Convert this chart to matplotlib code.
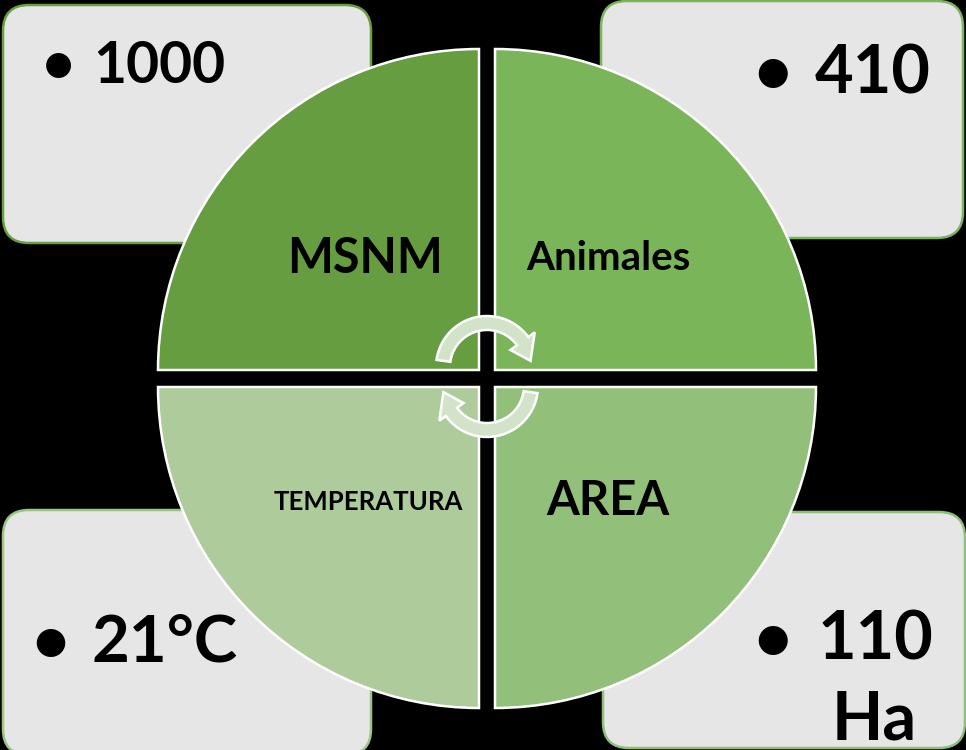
import numpy as np
import matplotlib.pyplot as plt
from matplotlib.patches import Wedge, FancyBboxPatch, Polygon

plt.rcParams['font.family'] = ['Lato', 'DejaVu Sans']

# Cuadrantes del círculo
etiquetas = ["MSNM", "Animales", "TEMPERATURA", "AREA"]
colores_cuadrante = ["#669d41", "#7ab55a", "#aecb9c", "#92c07b"]
# Valores de cada recuadro
valores = ["1000", "410", "21°C", "110\nHa"]
colores_borde = ["#6a9f40", "#7ab55a", "#9cc487", "#8fc07a"]

fig = plt.figure(figsize=(9.66, 7.5), dpi=100, facecolor="black")
ax = fig.add_axes([0, 0, 1, 1])
ax.set_xlim(0, 966)
ax.set_ylim(750, 0)
ax.set_facecolor("black")
ax.axis("off")

# recuadros grises de las esquinas (x, y, ancho, alto)
cajas = [(3, 5, 368, 238), (601, 1, 362, 237), (3, 510, 368, 245), (603, 512, 362, 236)]
for (x, y, w, h), borde in zip(cajas, colores_borde):
    ax.add_patch(FancyBboxPatch((x, y), w, h, boxstyle="round,pad=0,rounding_size=26",
                                facecolor="#e6e6e6", edgecolor=borde, lw=1.8, zorder=1))

# cuadrantes (con el eje y invertido los ángulos giran al revés)
r = 321
centros = [(479, 370), (495, 370), (479, 387), (495, 387)]
angulos = [(180, 270), (270, 360), (90, 180), (0, 90)]
for (cx, cy), (a1, a2), color in zip(centros, angulos, colores_cuadrante):
    ax.add_patch(Wedge((cx, cy), r, a1, a2, facecolor=color, edgecolor="white", lw=1.8, zorder=2))


def flecha_circular(cx, cy, r_in, r_out, a_ini, a_base, a_punta, r_in_cab, r_out_cab):
    # banda curva con punta de flecha; ángulos de pantalla en grados
    def pt(a, rr):
        t = np.radians(a)
        return cx + rr * np.cos(t), cy - rr * np.sin(t)
    ts = np.linspace(a_ini, a_base, 60)
    exterior = [pt(a, r_out) for a in ts]
    interior = [pt(a, r_in) for a in ts[::-1]]
    cabeza = [pt(a_base, r_out_cab), pt(a_punta, (r_in + r_out) / 2), pt(a_base, r_in_cab)]
    return Polygon(exterior + cabeza + interior, closed=True, facecolor="#d3e3c9",
                   edgecolor="white", lw=1.8, zorder=3)


ax.add_patch(flecha_circular(487, 367, 37, 51, 172, 36, 8, 29, 59))
ax.add_patch(flecha_circular(487, 386, 37, 51, -8, -144, -172, 29, 59))

# textos de los cuadrantes
ax.text(365, 273, etiquetas[0], ha="center", va="baseline", fontsize=35, fontweight="bold", zorder=4)
ax.text(608, 270, etiquetas[1], ha="center", va="baseline", fontsize=29, fontweight="bold", zorder=4)
ax.text(368, 510, etiquetas[2], ha="center", va="baseline", fontsize=18.5, fontweight="bold", zorder=4)
ax.text(608, 515, etiquetas[3], ha="center", va="baseline", fontsize=34, fontweight="bold", zorder=4)

# viñetas y valores (una línea de base por renglón)
posiciones = [(58, [93], [83], 41), (772, [815], [93], 48), (50, [92], [662], 47),
              (773, [818, 832], [660, 740], 48)]
for (xb, xs, ys, fs), val in zip(posiciones, valores):
    ax.text(xb, ys[0], "•", ha="center", va="baseline", fontsize=fs, fontweight="bold", zorder=4)
    for xt, yb, renglon in zip(xs, ys, val.split("\n")):
        ax.text(xt, yb, renglon, ha="left", va="baseline", fontsize=fs, fontweight="bold", zorder=4)

fig.savefig("out.png", dpi=100, facecolor="black")
